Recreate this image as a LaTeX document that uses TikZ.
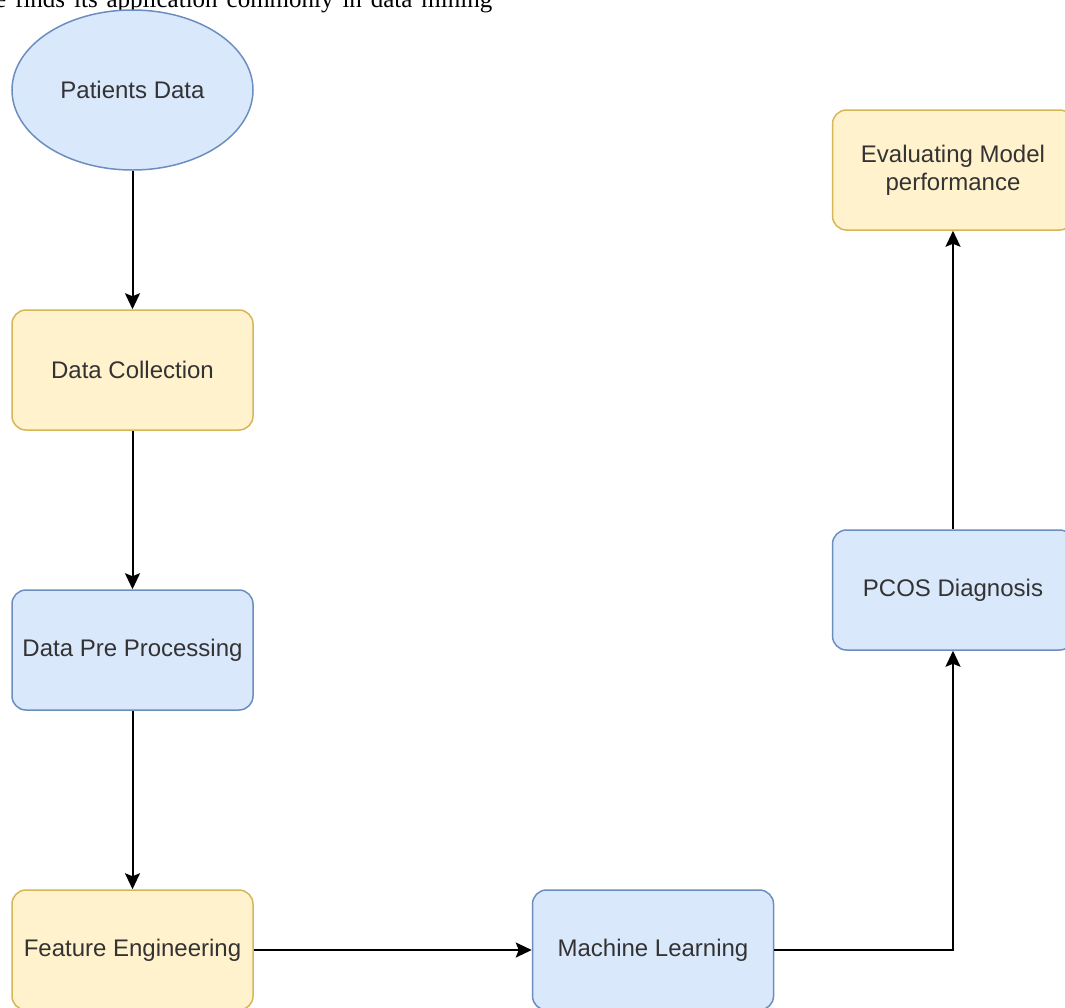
\documentclass[tikz,border=0pt]{standalone}
\usepackage{fontspec}
\setmainfont{Liberation Serif}
\newfontfamily\boxfont{Liberation Sans}
\usetikzlibrary{shapes.geometric,arrows.meta}
\definecolor{bluefill}{HTML}{DAE8FC}
\definecolor{bluedraw}{HTML}{6C8EBF}
\definecolor{yellowfill}{HTML}{FFF2CC}
\definecolor{yellowdraw}{HTML}{D6B656}
\definecolor{txt}{HTML}{333333}
\begin{document}
\begin{tikzpicture}[x=1pt,y=-1pt,
  base/.style={minimum width=241pt,minimum height=120pt,line width=1.5pt,
    font=\boxfont\fontsize{24}{28}\selectfont,text=txt,align=center,inner sep=0pt},
  bluebox/.style={base,rectangle,rounded corners=14pt,fill=bluefill,draw=bluedraw},
  yellowbox/.style={base,rectangle,rounded corners=14pt,fill=yellowfill,draw=yellowdraw},
  blueell/.style={base,ellipse,minimum height=160pt,fill=bluefill,draw=bluedraw},
  conn/.style={line width=2pt,draw=black,-{Stealth[length=16pt,width=15pt,inset=3pt]}}]
\useasboundingbox (0,0) rectangle (1065,1007);
\begin{scope}
\clip (0,0) rectangle (1065,1007);
\node[anchor=base west,inner sep=0pt,font=\fontsize{25}{30}\selectfont] (top) at (-5,7)
  {\makebox[497pt][s]{e finds its application commonly in data mining}};
\node[blueell] (pd) at (132.5,90) {Patients Data};
\node[yellowbox] (dc) at (132.5,370) {Data Collection};
\node[bluebox] (dp) at (132.5,650) {Data Pre Processing};
\node[yellowbox] (fe) at (132.5,950) {Feature Engineering};
\node[bluebox] (ml) at (653,950) {Machine Learning};
\node[bluebox] (pc) at (953,590) {PCOS Diagnosis};
\node[yellowbox] (ev) at (953,170) {Evaluating Model\\performance};
\draw[conn] (pd) -- (dc);
\draw[conn] (dc) -- (dp);
\draw[conn] (dp) -- (fe);
\draw[conn] (fe) -- (ml);
\draw[conn] (ml.east) -| (pc.south);
\draw[conn] (pc) -- (ev);
\end{scope}
\end{tikzpicture}
\end{document}
